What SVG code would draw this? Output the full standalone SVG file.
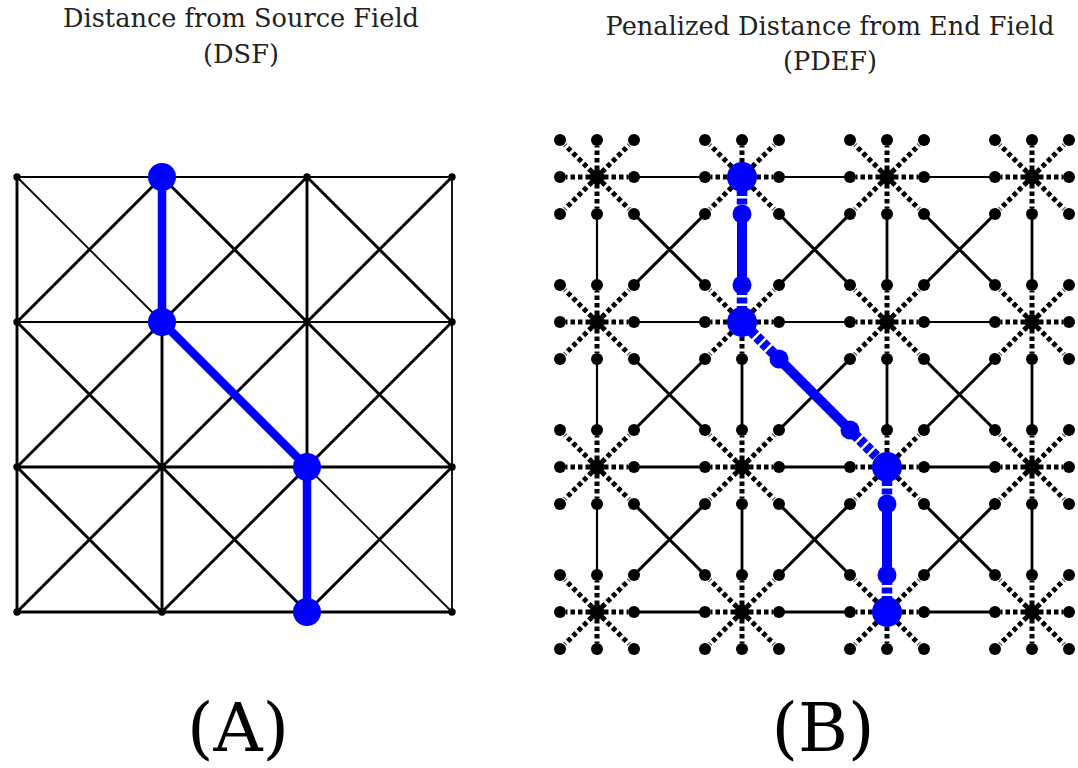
<svg xmlns="http://www.w3.org/2000/svg" xmlns:xlink="http://www.w3.org/1999/xlink" width="1078" height="768" viewBox="0 0 1078 768">
<style>
.title{font-family:"DejaVu Serif","Liberation Serif",serif;font-size:25.6px;fill:#222;text-anchor:middle}
.label{font-family:"DejaVu Serif","Liberation Serif",serif;font-size:68px;fill:#000;text-anchor:middle}
.thin{stroke:#000;stroke-width:1.8;fill:none}
.thick{stroke:#000;stroke-width:2.9;fill:none}
.bthin{stroke:#000;stroke-width:2.2;fill:none}
.bthick{stroke:#000;stroke-width:2.8;fill:none}
.bdiag{stroke:#000;stroke-width:3.1;fill:none}
.spoke{stroke:#000;stroke-width:5;stroke-dasharray:4.5 3;stroke-dashoffset:-7;fill:none}
.dot{fill:#000}
.blue{fill:#0000FF}
.bline{stroke:#0000FF;fill:none;stroke-linecap:butt}
.white{stroke:#fff;fill:none}
</style>
<defs>
<g id="star">
<path class="spoke" d="M0 0H31M0 0H-31M0 0V31M0 0V-31M0 0L32 32M0 0L-32 -32M0 0L32 -32M0 0L-32 32"/>
<circle class="dot" cx="37" cy="0" r="6"/>
<circle class="dot" cx="-37" cy="0" r="6"/>
<circle class="dot" cx="0" cy="37" r="6"/>
<circle class="dot" cx="0" cy="-37" r="6"/>
<circle class="dot" cx="37" cy="37" r="6"/>
<circle class="dot" cx="-37" cy="-37" r="6"/>
<circle class="dot" cx="37" cy="-37" r="6"/>
<circle class="dot" cx="-37" cy="37" r="6"/>
<circle class="dot" cx="0" cy="0" r="7.5"/>
</g>
<circle id="adot" class="dot" r="3.7"/>
</defs>
<rect width="1078" height="768" fill="#fff"/>

<text class="title" x="241" y="27">Distance from Source Field</text>
<text class="title" x="241" y="63">(DSF)</text>
<text class="title" x="830" y="35">Penalized Distance from End Field</text>
<text class="title" x="830" y="70">(PDEF)</text>

<!-- Panel A connectors -->
<g id="connectors-a">
<path class="thin" d="M17 177H452M17 322H452M452 177V612M17 177L162 322M307 467L452 612"/>
<path class="thick" d="M17 467H452M17 612H452M17 177V612M162 177V612M307 177V612M162 177L307 322M307 177L452 322M17 322L162 467M162 322L307 467M307 322L452 467M17 467L162 612M162 467L307 612M162 177L17 322M307 177L162 322M452 177L307 322M162 322L17 467M307 322L162 467M452 322L307 467M162 467L17 612M307 467L162 612M452 467L307 612"/>
</g>

<!-- Panel A nodes -->
<g id="a-n-0-0"><use xlink:href="#adot" x="17" y="177"/></g>
<g id="a-n-0-1"><use xlink:href="#adot" x="162" y="177"/></g>
<g id="a-n-0-2"><use xlink:href="#adot" x="307" y="177"/></g>
<g id="a-n-0-3"><use xlink:href="#adot" x="452" y="177"/></g>
<g id="a-n-1-0"><use xlink:href="#adot" x="17" y="322"/></g>
<g id="a-n-1-1"><use xlink:href="#adot" x="162" y="322"/></g>
<g id="a-n-1-2"><use xlink:href="#adot" x="307" y="322"/></g>
<g id="a-n-1-3"><use xlink:href="#adot" x="452" y="322"/></g>
<g id="a-n-2-0"><use xlink:href="#adot" x="17" y="467"/></g>
<g id="a-n-2-1"><use xlink:href="#adot" x="162" y="467"/></g>
<g id="a-n-2-2"><use xlink:href="#adot" x="307" y="467"/></g>
<g id="a-n-2-3"><use xlink:href="#adot" x="452" y="467"/></g>
<g id="a-n-3-0"><use xlink:href="#adot" x="17" y="612"/></g>
<g id="a-n-3-1"><use xlink:href="#adot" x="162" y="612"/></g>
<g id="a-n-3-2"><use xlink:href="#adot" x="307" y="612"/></g>
<g id="a-n-3-3"><use xlink:href="#adot" x="452" y="612"/></g>

<!-- Panel A path -->
<g id="path-a">
<polyline class="bline" stroke-width="8.5" points="162,177 162,322 307,467 307,612"/>
<circle class="blue" cx="162" cy="177" r="14"/>
<circle class="blue" cx="162" cy="322" r="14"/>
<circle class="blue" cx="307" cy="467" r="14"/>
<circle class="blue" cx="307" cy="612" r="14"/>
</g>

<!-- Panel B connectors -->
<g id="connectors-b">
<path class="bthin" d="M634 177H705M779 177H850M924 177H995M634 322H705M779 322H850M924 322H995M597 214V285M597 359V430M597 504V575"/>
<path class="bthick" d="M634 467H705M779 467H850M924 467H995M634 612H705M779 612H850M924 612H995M742 214V285M742 359V430M742 504V575M887 214V285M887 359V430M887 504V575M1032 214V285M1032 359V430M1032 504V575"/>
<path class="bdiag" d="M634 214L705 285M779 214L850 285M924 214L995 285M634 359L705 430M779 359L850 430M924 359L995 430M634 504L705 575M779 504L850 575M924 504L995 575M705 214L634 285M850 214L779 285M995 214L924 285M705 359L634 430M850 359L779 430M995 359L924 430M705 504L634 575M850 504L779 575M995 504L924 575"/>
</g>

<!-- Panel B nodes -->
<g id="b-n-0-0"><use xlink:href="#star" x="597" y="177"/></g>
<g id="b-n-0-1"><use xlink:href="#star" x="742" y="177"/></g>
<g id="b-n-0-2"><use xlink:href="#star" x="887" y="177"/></g>
<g id="b-n-0-3"><use xlink:href="#star" x="1032" y="177"/></g>
<g id="b-n-1-0"><use xlink:href="#star" x="597" y="322"/></g>
<g id="b-n-1-1"><use xlink:href="#star" x="742" y="322"/></g>
<g id="b-n-1-2"><use xlink:href="#star" x="887" y="322"/></g>
<g id="b-n-1-3"><use xlink:href="#star" x="1032" y="322"/></g>
<g id="b-n-2-0"><use xlink:href="#star" x="597" y="467"/></g>
<g id="b-n-2-1"><use xlink:href="#star" x="742" y="467"/></g>
<g id="b-n-2-2"><use xlink:href="#star" x="887" y="467"/></g>
<g id="b-n-2-3"><use xlink:href="#star" x="1032" y="467"/></g>
<g id="b-n-3-0"><use xlink:href="#star" x="597" y="612"/></g>
<g id="b-n-3-1"><use xlink:href="#star" x="742" y="612"/></g>
<g id="b-n-3-2"><use xlink:href="#star" x="887" y="612"/></g>
<g id="b-n-3-3"><use xlink:href="#star" x="1032" y="612"/></g>

<!-- Panel B path -->
<g id="path-b">
<path class="white" stroke-width="13" d="M742 177V214M742 285V322M742 322L779 359M850 430L887 467M887 467V504M887 575V612"/>
<path class="bline" stroke-width="10.5" stroke-dasharray="6 2.5" d="M742 190V210M742 289V309M751 331L775 355M854 434L878 458M887 480V500M887 579V599"/>
<path class="bline" stroke-width="10" d="M742 214V285M779 359L850 430M887 504V575"/>
<circle class="blue" cx="742" cy="214" r="9.5"/>
<circle class="blue" cx="742" cy="285" r="9.5"/>
<circle class="blue" cx="779" cy="359" r="9.5"/>
<circle class="blue" cx="850" cy="430" r="9.5"/>
<circle class="blue" cx="887" cy="504" r="9.5"/>
<circle class="blue" cx="887" cy="575" r="9.5"/>
<circle class="blue" cx="742" cy="177" r="15"/>
<circle class="blue" cx="742" cy="322" r="15"/>
<circle class="blue" cx="887" cy="467" r="15"/>
<circle class="blue" cx="887" cy="612" r="15"/>
</g>

<text class="label" x="238" y="751">(A)</text>
<text class="label" x="823" y="751">(B)</text>
</svg>
